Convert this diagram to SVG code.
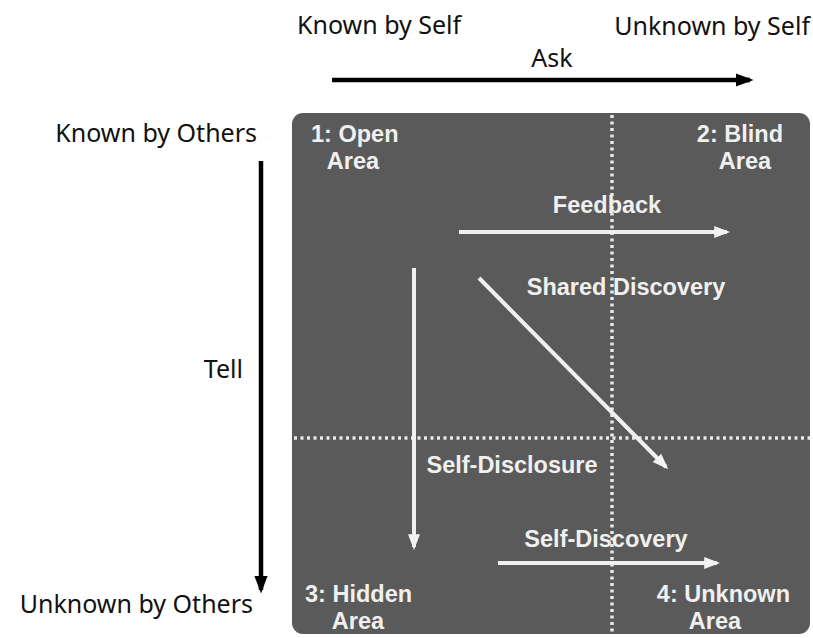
<svg xmlns="http://www.w3.org/2000/svg" width="813" height="638" viewBox="0 0 813 638">
<defs>
<marker id="ah" markerWidth="4" markerHeight="4" refX="3.2" refY="2" orient="auto" markerUnits="strokeWidth"><path d="M0,0.5 L4,2 L0,3.5 Z" fill="#000"/></marker>
<marker id="wh" markerWidth="4" markerHeight="4" refX="3.2" refY="2" orient="auto" markerUnits="strokeWidth"><path d="M0,0.5 L4,2 L0,3.5 Z" fill="#f2f2f2"/></marker>
<style>
.lab{font-family:"Noto Sans","Open Sans",sans-serif;font-size:25px;fill:#111}
.in{font-family:"Liberation Sans",Arial,sans-serif;font-size:23.5px;font-weight:bold;fill:#f0f0f0}
.blk{stroke:#000;stroke-width:4.5;fill:none}
.wht{stroke:#f0f0f0;stroke-width:4;fill:none}
.dot{stroke:#e8e8e8;stroke-width:3.5;stroke-dasharray:3 3.5;fill:none}
</style>
</defs>
<rect width="813" height="638" fill="#fff"/>
<g id="axes-labels">
<text class="lab" x="297" y="34">Known by Self</text>
<text class="lab" x="810" y="35" text-anchor="end">Unknown by Self</text>
<text class="lab" x="552" y="67" text-anchor="middle">Ask</text>
<text class="lab" x="257" y="142" text-anchor="end">Known by Others</text>
<text class="lab" x="243" y="378" text-anchor="end">Tell</text>
<text class="lab" x="253" y="613" text-anchor="end">Unknown by Others</text>
</g>
<g id="window">
<rect x="292" y="113" width="518" height="521" rx="11" fill="#5a5a5a"/>
<path class="dot" d="M612,115 V634"/>
<path class="dot" d="M294,438 H810"/>
</g>
<g id="quadrant-1"><text class="in" y="142"><tspan x="311">1: Open</tspan><tspan x="353" y="169" text-anchor="middle">Area</tspan></text></g>
<g id="quadrant-2"><text class="in" y="142"><tspan x="783" text-anchor="end">2: Blind</tspan><tspan x="745" y="169" text-anchor="middle">Area</tspan></text></g>
<g id="quadrant-3"><text class="in" y="602"><tspan x="305">3: Hidden</tspan><tspan x="358" y="629" text-anchor="middle">Area</tspan></text></g>
<g id="quadrant-4"><text class="in" y="602"><tspan x="790" text-anchor="end">4: Unknown</tspan><tspan x="715" y="629" text-anchor="middle">Area</tspan></text></g>
<g id="connectors">
<line class="blk" x1="332" y1="80" x2="750" y2="80" marker-end="url(#ah)"/>
<line class="blk" x1="261" y1="161" x2="261" y2="590" marker-end="url(#ah)"/>
<line class="wht" x1="459" y1="232" x2="727" y2="232" marker-end="url(#wh)"/>
<line class="wht" x1="414" y1="268" x2="414" y2="547" marker-end="url(#wh)"/>
<line class="wht" x1="479" y1="278" x2="666" y2="467" marker-end="url(#wh)"/>
<line class="wht" x1="498" y1="563" x2="717" y2="563" marker-end="url(#wh)"/>
<text class="in" x="607" y="213" text-anchor="middle">Feedback</text>
<text class="in" x="626" y="295" text-anchor="middle">Shared Discovery</text>
<text class="in" x="512" y="473" text-anchor="middle">Self-Disclosure</text>
<text class="in" x="606" y="547" text-anchor="middle">Self-Discovery</text>
</g>
</svg>
